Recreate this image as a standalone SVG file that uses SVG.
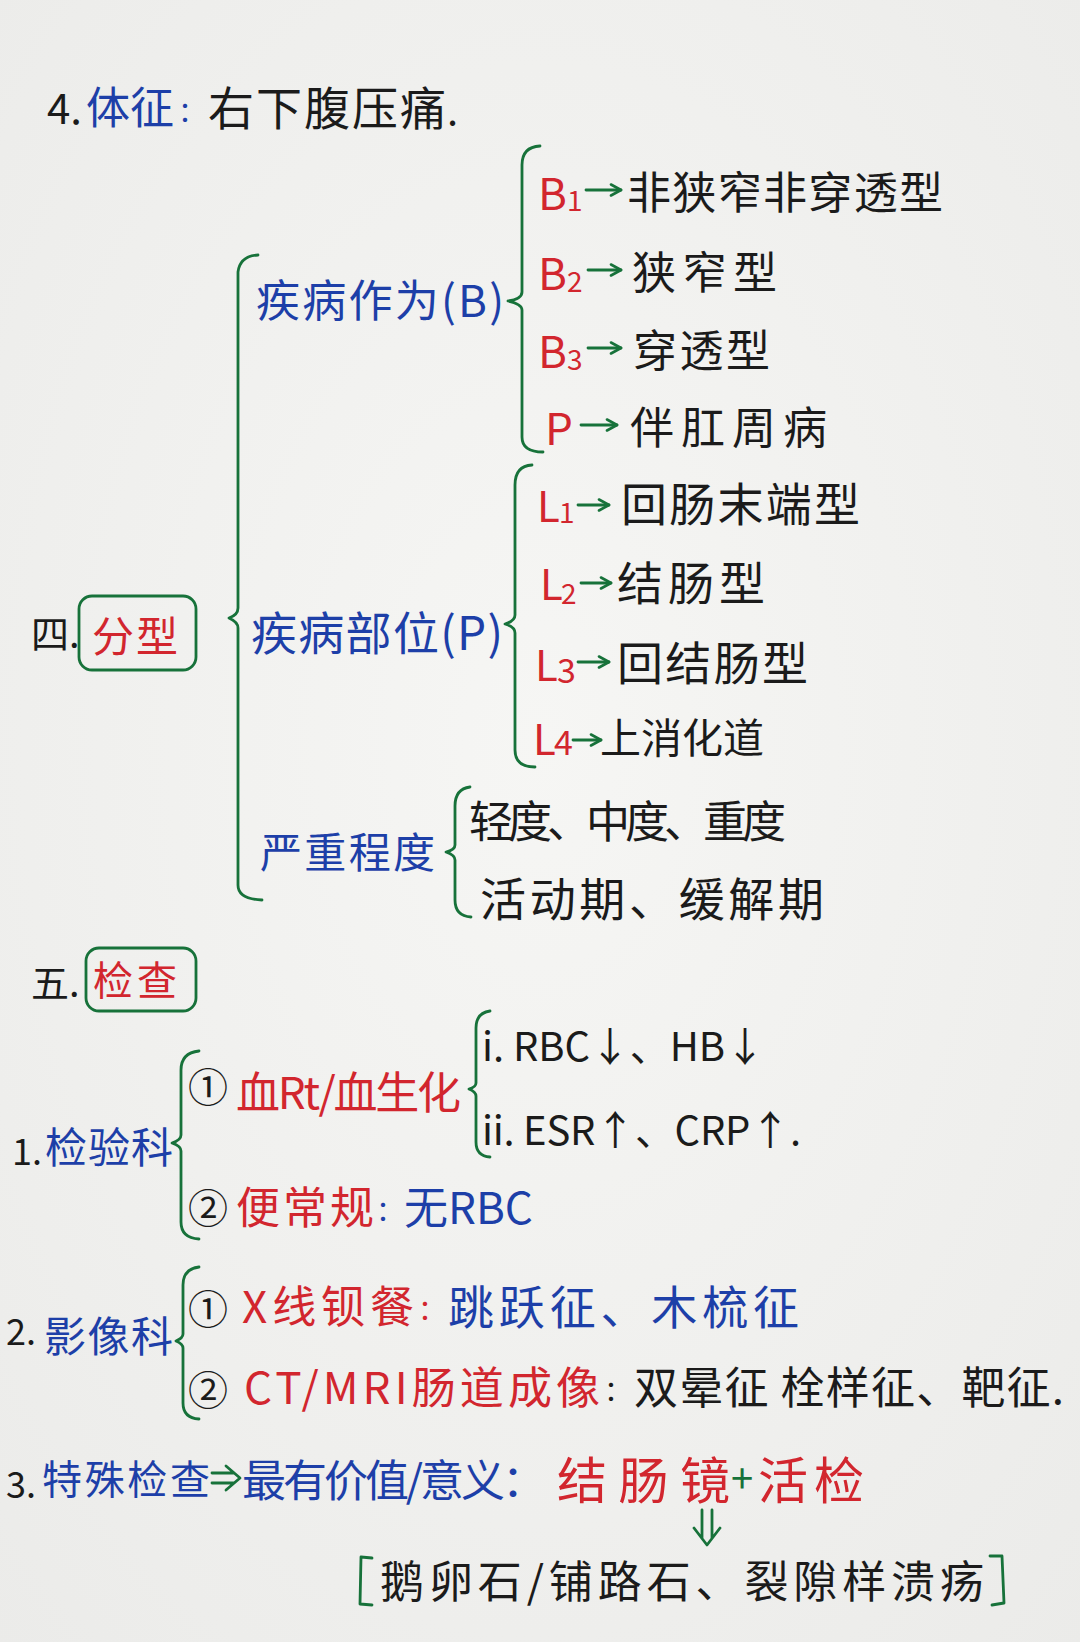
<svg xmlns="http://www.w3.org/2000/svg" width="1080" height="1642" viewBox="0 0 1080 1642">
<defs>
<radialGradient id="bg" cx="50%" cy="45%" r="75%">
<stop offset="0" stop-color="#f6f6f4"/>
<stop offset="1" stop-color="#ebebe9"/>
</radialGradient>
<marker id="ah" viewBox="0 0 14 14" refX="12" refY="7" markerWidth="14" markerHeight="14" markerUnits="userSpaceOnUse" orient="auto">
<path d="M2 1.5 L12 7 L2 12.5" fill="none" stroke="#17723a" stroke-width="2.6" stroke-linecap="round" stroke-linejoin="round"/>
</marker>
<style>
text{font-family:"Noto Sans CJK SC","Noto Sans",sans-serif;}
.k{fill:#1b1b1b}
.r{fill:#d2262e}
.b{fill:#1d3fa8}
.g{fill:#17723a}
.br{fill:none;stroke:#17723a;stroke-width:2.8;stroke-linecap:round;stroke-linejoin:round}
.ar{fill:none;stroke:#17723a;stroke-width:2.8;stroke-linecap:round;marker-end:url(#ah)}
.box{fill:none;stroke:#17723a;stroke-width:2.8}
.f46{font-size:46px}
.f44{font-size:44px}
.f42{font-size:42px}
.f40{font-size:40px}
.sub{font-size:28px}
.cn{font-size:40px}
.col{font-size:28px}
</style>
</defs>
<rect x="0" y="0" width="1080" height="1642" fill="url(#bg)"/>

<g id="connectors">
<path class="br" d="M258 255 Q240 256 238 272 L238 608 Q238 615 229 618 Q238 622 238 628 L238 885 Q238 899 262 900"/>
<path class="br" d="M540 146 Q522 147 522 165 L522 292 Q522 299 508 301 Q522 304 522 310 L522 437 Q522 452 543 452"/>
<path class="br" d="M532 465 Q515 466 515 485 L515 615 Q515 621 505 624 Q515 627 515 633 L515 750 Q515 767 535 767"/>
<path class="br" d="M470 787 Q455 789 455 806 L455 845 Q455 850 446 852 Q455 855 455 860 L455 900 Q455 916 471 917"/>
<path class="br" d="M199 1051 Q181 1053 181 1070 L181 1135 Q181 1140 172 1143 Q181 1146 181 1151 L181 1222 Q181 1238 199 1239"/>
<path class="br" d="M490 1011 Q476 1013 476 1028 L476 1083 Q476 1087 469 1089 Q476 1092 476 1096 L476 1142 Q476 1156 490 1157"/>
<path class="br" d="M199 1267 Q183 1269 183 1285 L183 1334 Q183 1338 176 1341 Q183 1344 183 1348 L183 1403 Q183 1418 199 1419"/>
<line class="ar" x1="586" y1="190" x2="621" y2="190"/>
<line class="ar" x1="588" y1="270" x2="621" y2="270"/>
<line class="ar" x1="588" y1="348" x2="621" y2="348"/>
<line class="ar" x1="581" y1="425" x2="617" y2="425"/>
<line class="ar" x1="578" y1="505" x2="609" y2="505"/>
<line class="ar" x1="581" y1="583" x2="611" y2="583"/>
<line class="ar" x1="578" y1="662" x2="609" y2="662"/>
<line class="ar" x1="573" y1="740" x2="601" y2="740"/>
<path class="br" d="M212 1473 L234 1473 M212 1483 L234 1483 M226 1466 L240 1478 L226 1490"/>
<path class="br" d="M702 1510 L702 1538 M712 1510 L712 1538 M694 1528 L707 1545 L720 1528"/>
<path class="br" d="M372 1558 L361 1557 L360 1604 L372 1605"/>
<path class="br" d="M990 1556 L1002 1556 L1004 1603 L992 1605"/>
</g>

<g id="title-signs">
<text class="k f42" x="47" y="124">4.</text>
<text class="b f44" x="86" y="124" textLength="88">体征</text>
<text class="b col" x="178" y="122">：</text>
<text class="k f46" x="208" y="125" textLength="238">右下腹压痛</text>
<text class="k f40" x="447" y="125">.</text>
</g>

<g id="sec4-label">
<text class="k" font-size="38" x="31" y="648">四.</text>
<rect class="box" x="79" y="596" width="117" height="74" rx="13"/>
<text class="r f42" x="92" y="652" textLength="86">分型</text>
</g>

<g id="node-behavior">
<text class="b f44" x="256" y="317" textLength="248">疾病作为(B)</text>
</g>
<g id="node-B1">
<text class="r f44" x="538" y="210">B</text><text class="r sub" x="567" y="211">1</text>
<text class="k f44" x="627" y="209" textLength="316">非狭窄非穿透型</text>
</g>
<g id="node-B2">
<text class="r f44" x="538" y="290">B</text><text class="r sub" x="567" y="292">2</text>
<text class="k f44" x="632" y="289" textLength="145">狭窄型</text>
</g>
<g id="node-B3">
<text class="r f44" x="538" y="368">B</text><text class="r sub" x="567" y="370">3</text>
<text class="k f44" x="633" y="367" textLength="137">穿透型</text>
</g>
<g id="node-P">
<text class="r f44" x="545" y="445">P</text>
<text class="k f44" x="630" y="444" textLength="197">伴肛周病</text>
</g>

<g id="node-location">
<text class="b f46" x="251" y="650" textLength="252">疾病部位(P)</text>
</g>
<g id="node-L1">
<text class="r f42" x="537" y="522">L</text><text class="r sub" x="559" y="523">1</text>
<text class="k f46" x="621" y="521" textLength="239">回肠末端型</text>
</g>
<g id="node-L2">
<text class="r f42" x="540" y="600">L</text><text class="r sub" x="561" y="604">2</text>
<text class="k f46" x="617" y="600" textLength="148">结肠型</text>
</g>
<g id="node-L3">
<text class="r f42" x="535" y="681">L</text><text class="r" font-size="34" x="557" y="683">3</text>
<text class="k f46" x="617" y="680" textLength="191">回结肠型</text>
</g>
<g id="node-L4">
<text class="r f42" x="533" y="755">L</text><text class="r" font-size="34" x="554" y="755">4</text>
<text class="k" font-size="41" x="600" y="753">上消化道</text>
</g>

<g id="node-severity">
<text class="b f42" x="260" y="868" textLength="175">严重程度</text>
</g>
<g id="node-degree">
<text class="k f44" x="469" y="838" textLength="317">轻度、中度、重度</text>
</g>
<g id="node-phase">
<text class="k f46" x="480" y="916" textLength="344">活动期、缓解期</text>
</g>

<g id="sec5-label">
<text class="k" font-size="38" x="31" y="997">五.</text>
<rect class="box" x="86" y="948" width="110" height="63" rx="13"/>
<text class="r f40" x="93" y="995" textLength="84">检查</text>
</g>

<g id="node-lab">
<text class="k" font-size="36" x="12" y="1165">1.</text>
<text class="b f42" x="45" y="1163" textLength="128">检验科</text>
</g>
<g id="node-blood">
<text class="k cn" x="188" y="1102">①</text>
<text class="r f44" x="236" y="1109" textLength="225">血Rt/血生化</text>
</g>
<g id="node-blood-i">
<text class="k f40" x="482" y="1061" textLength="283">i. RBC↓、HB↓</text>
</g>
<g id="node-blood-ii">
<text class="k f40" x="482" y="1145" textLength="319">ii. ESR↑、CRP↑.</text>
</g>
<g id="node-stool">
<text class="k cn" x="188" y="1223">②</text>
<text class="r f44" x="236" y="1224" textLength="138">便常规</text>
<text class="b col" x="376" y="1221">：</text>
<text class="b f44" x="404" y="1224">无RBC</text>
</g>

<g id="node-imaging">
<text class="k" font-size="36" x="6" y="1345">2.</text>
<text class="b f42" x="44" y="1352" textLength="129">影像科</text>
</g>
<g id="node-xray">
<text class="k cn" x="188" y="1324">①</text>
<text class="r f44" x="242" y="1323" textLength="172">X线钡餐</text>
<text class="r col" x="418" y="1320">：</text>
<text class="b f46" x="448" y="1324" textLength="351">跳跃征、木梳征</text>
</g>
<g id="node-ct">
<text class="k cn" x="188" y="1405">②</text>
<text class="r f44" x="244" y="1404" textLength="356">CT/MRI肠道成像</text>
<text class="k col" x="604" y="1401">：</text>
<text class="k f44" x="634" y="1404" textLength="430">双晕征 栓样征、靶征.</text>
</g>

<g id="node-special">
<text class="k" font-size="36" x="6" y="1498">3.</text>
<text class="b f40" x="42" y="1494" textLength="168">特殊检查</text>
<text class="b f44" x="242" y="1497" textLength="304">最有价值/意义：</text>
<text class="r" font-size="50" x="557" y="1499" textLength="173">结肠镜</text>
<text class="g f40" x="731" y="1493">+</text>
<text class="r" font-size="50" x="758" y="1499" textLength="106">活检</text>
</g>
<g id="node-findings">
<text class="k f44" x="380" y="1598" textLength="604">鹅卵石/铺路石、裂隙样溃疡</text>
</g>
</svg>
